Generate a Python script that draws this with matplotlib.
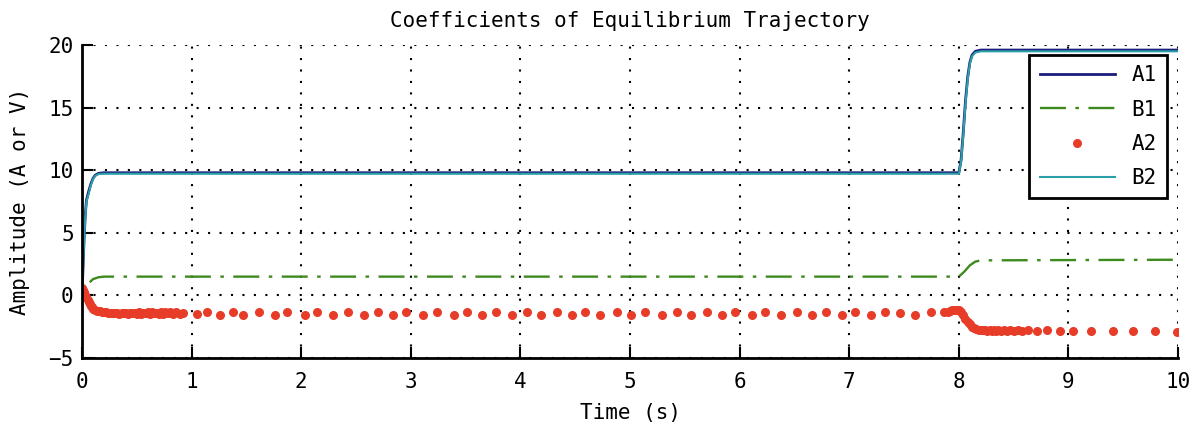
import matplotlib.pyplot as plt

plt.rcParams['font.family'] = ['DejaVu Sans Mono']

# A1 / B2 (nearly identical traces)
t_a1 = [0, 0.01, 0.02, 0.03, 0.04, 0.06, 0.08, 0.10, 0.12, 0.15, 0.20,
        8.00, 8.02, 8.04, 8.06, 8.08, 8.10, 8.12, 8.15, 8.20, 10.0]
a1 = [0, 2.5, 4.8, 6.5, 7.6, 8.3, 8.9, 9.35, 9.6, 9.75, 9.8,
      9.8, 10.8, 13.0, 15.5, 17.4, 18.6, 19.2, 19.5, 19.6, 19.6]
b2 = [0, 2.4, 4.6, 6.3, 7.5, 8.1, 8.8, 9.3, 9.55, 9.7, 9.72,
      9.72, 10.7, 12.8, 15.3, 17.2, 18.5, 19.1, 19.4, 19.5, 19.5]

# B1
t_b1 = [0.07, 0.10, 0.15, 0.20, 8.00, 8.05, 8.10, 8.15, 8.20, 10.0]
b1 = [1.05, 1.3, 1.45, 1.5, 1.5, 1.9, 2.4, 2.7, 2.8, 2.85]

# A2 (solver steps, dense near transitions)
t_a2 = [0, 0.01, 0.02, 0.03, 0.04, 0.05, 0.06, 0.07, 0.08, 0.09, 0.10,
        0.12, 0.14, 0.16, 0.18, 0.20, 0.22, 0.24, 0.26, 0.28, 0.30, 0.32,
        0.34, 0.36, 0.38, 0.40, 0.42, 0.44, 0.46, 0.48, 0.50, 0.52, 0.54,
        0.56, 0.58, 0.60, 0.62, 0.64, 0.66, 0.68, 0.70, 0.72, 0.74, 0.76,
        0.78, 0.80, 0.83, 0.86, 0.89,
        0.92, 1.05, 1.14, 1.26, 1.38, 1.47, 1.61, 1.76, 1.87, 2.03, 2.14,
        2.29, 2.43, 2.57, 2.70, 2.84, 2.96, 3.11, 3.24, 3.39, 3.51, 3.65,
        3.78, 3.92, 4.06, 4.19, 4.33, 4.47, 4.59, 4.73, 4.88, 5.01, 5.14,
        5.29, 5.43, 5.56, 5.70, 5.84, 5.96, 6.11, 6.23, 6.38, 6.52, 6.66,
        6.79, 6.93, 7.05, 7.20, 7.33, 7.46, 7.60, 7.75, 7.86,
        7.90, 7.92, 7.94, 7.96, 7.98, 8.00, 8.02, 8.04, 8.06, 8.08, 8.10,
        8.12, 8.14, 8.16, 8.18, 8.20, 8.22, 8.24, 8.26, 8.28, 8.30, 8.32,
        8.34, 8.36, 8.38, 8.41, 8.44, 8.47, 8.50, 8.54, 8.58, 8.63,
        8.71, 8.80, 8.92, 9.04, 9.21, 9.41, 9.59, 9.79, 9.99]
a2 = [0.6, 0.45, 0.25, 0.05, -0.15, -0.35, -0.55, -0.7, -0.85, -0.95, -1.05,
      -1.15, -1.22, -1.27, -1.3, -1.33, -1.35, -1.37, -1.4, -1.38, -1.42, -1.4,
      -1.45, -1.38, -1.43, -1.4, -1.45, -1.38, -1.42, -1.4, -1.45, -1.35, -1.45,
      -1.38, -1.42, -1.35, -1.45, -1.35, -1.42, -1.38, -1.45, -1.33, -1.45,
      -1.35, -1.42, -1.33, -1.48, -1.33, -1.45,
      -1.4, -1.5, -1.3, -1.55, -1.3, -1.55, -1.3, -1.55, -1.3, -1.55, -1.3,
      -1.55, -1.3, -1.55, -1.3, -1.55, -1.3, -1.55, -1.3, -1.55, -1.3, -1.55,
      -1.3, -1.55, -1.3, -1.55, -1.3, -1.55, -1.3, -1.55, -1.3, -1.55, -1.3,
      -1.55, -1.3, -1.55, -1.3, -1.55, -1.3, -1.55, -1.3, -1.55, -1.3, -1.55,
      -1.3, -1.55, -1.3, -1.55, -1.3, -1.4, -1.55, -1.3, -1.35,
      -1.3, -1.25, -1.2, -1.18, -1.15, -1.15, -1.3, -1.55, -1.85, -2.1, -2.3,
      -2.5, -2.6, -2.7, -2.75, -2.78, -2.8, -2.8, -2.82, -2.8, -2.82, -2.8,
      -2.82, -2.8, -2.83, -2.8, -2.85, -2.8, -2.83, -2.8, -2.85, -2.8,
      -2.85, -2.8, -2.88, -2.82, -2.88, -2.85, -2.88, -2.85, -2.9]

fig = plt.figure(figsize=(11.96, 4.29), dpi=100)
ax = fig.add_axes([0.0686, 0.1655, 0.9164, 0.7295])

ax.plot(t_a1, a1, color='#1c1c7a', lw=2, label='A1')
ax.plot(t_b1, b1, color='#3f8a1f', lw=1.7, linestyle=(0, (11, 4, 1.5, 4)), label='B1')
ax.plot(t_a2, a2, linestyle='none', marker='o', ms=6.5, mew=0, color='#e63c28', label='A2')
ax.plot(t_a1, b2, color='#2a9fa8', lw=1.5, label='B2')

ax.set_xlim(0, 10)
ax.set_ylim(-5, 20)
ax.set_xticks(range(0, 11))
ax.set_yticks([-5, 0, 5, 10, 15, 20])
ax.grid(True, color='black', linestyle=(0, (1, 4.5)), linewidth=1.5)
ax.spines['top'].set_visible(False)
ax.spines['right'].set_visible(False)
for s in ['left', 'bottom']:
    ax.spines[s].set_linewidth(2)
ax.tick_params(direction='in', length=8, width=1.5, labelsize=15)
ax.tick_params(axis='x', pad=10)
ax.tick_params(axis='y', pad=6)

ax.set_title('Coefficients of Equilibrium Trajectory', fontsize=15, pad=13)
ax.set_xlabel('Time (s)', fontsize=15, labelpad=8)
ax.set_ylabel('Amplitude (A or V)', fontsize=15, labelpad=13)

leg = ax.legend(loc='upper right', bbox_to_anchor=(0.99, 0.968), borderaxespad=0,
                fontsize=15, fancybox=False, framealpha=1, edgecolor='black',
                handlelength=3.6, numpoints=1, labelspacing=0.68, borderpad=0.5)
leg.get_frame().set_linewidth(2)

plt.savefig('out.png', dpi=100)
